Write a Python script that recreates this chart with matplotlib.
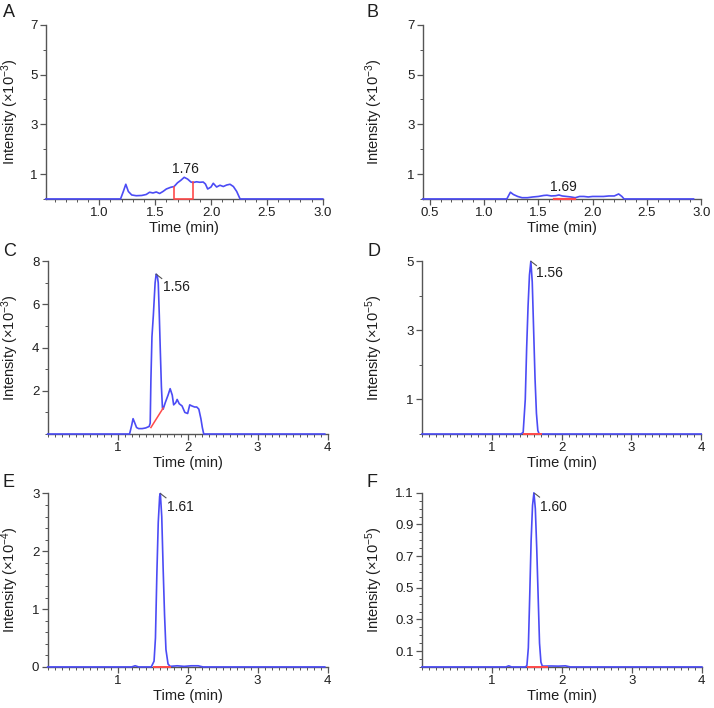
import numpy as np
import matplotlib.pyplot as plt
from matplotlib.ticker import MultipleLocator, FixedLocator

plt.rcParams['font.family'] = ['Liberation Sans', 'DejaVu Sans']
plt.rcParams['mathtext.fontset'] = 'custom'
plt.rcParams['mathtext.rm'] = 'Liberation Sans'
plt.rcParams['mathtext.default'] = 'regular'

# Cromatogramas (tiempo en min, intensidad en unidades del eje)
time_a = [0.52, 1.19, 1.215, 1.237, 1.26, 1.29, 1.33, 1.38, 1.42, 1.45, 1.48, 1.51, 1.54, 1.57,
          1.60, 1.64, 1.67, 1.70, 1.73, 1.76, 1.79, 1.82, 1.84, 1.87, 1.90, 1.93, 1.95, 1.97,
          2.00, 2.02, 2.05, 2.08, 2.11, 2.14, 2.17, 2.20, 2.23, 2.26, 3.0]
inten_a = [0, 0, 0.3, 0.59, 0.3, 0.16, 0.13, 0.14, 0.18, 0.27, 0.24, 0.28, 0.22, 0.3,
           0.4, 0.47, 0.5, 0.65, 0.75, 0.87, 0.8, 0.68, 0.66, 0.69, 0.67, 0.68, 0.6, 0.4,
           0.48, 0.63, 0.48, 0.55, 0.5, 0.56, 0.59, 0.5, 0.3, 0, 0]

time_b = [0.435, 1.21, 1.243, 1.27, 1.31, 1.35, 1.40, 1.45, 1.50, 1.55, 1.58, 1.62, 1.66, 1.69,
          1.72, 1.76, 1.80, 1.84, 1.88, 1.92, 1.96, 2.0, 2.05, 2.10, 2.15, 2.20, 2.24, 2.27,
          2.29, 2.93]
inten_b = [0, 0, 0.27, 0.18, 0.1, 0.05, 0.05, 0.08, 0.1, 0.14, 0.15, 0.12, 0.13, 0.16,
           0.12, 0.1, 0.08, 0.05, 0.1, 0.1, 0.08, 0.1, 0.1, 0.1, 0.12, 0.12, 0.2, 0.1,
           0, 0]

time_c = [0, 1.17, 1.20, 1.22, 1.24, 1.27, 1.30, 1.35, 1.40, 1.45, 1.465, 1.475, 1.49, 1.51,
          1.535, 1.55, 1.565, 1.58, 1.595, 1.61, 1.625, 1.64, 1.65, 1.68, 1.72, 1.75, 1.78, 1.80,
          1.83, 1.85, 1.88, 1.92, 1.96, 2.00, 2.03, 2.06, 2.10, 2.13, 2.16, 2.19, 2.21, 2.23, 3.96]
inten_c = [0, 0, 0.4, 0.71, 0.55, 0.3, 0.25, 0.25, 0.28, 0.35, 0.5, 2.5, 4.5, 5.5,
           7.0, 7.4, 7.35, 7.0, 5.5, 3.8, 2.2, 1.2, 1.15, 1.45, 1.8, 2.1, 1.8, 1.35,
           1.45, 1.6, 1.4, 1.3, 1.0, 0.95, 1.35, 1.3, 1.25, 1.25, 1.15, 0.7, 0.3, 0, 0]

time_d = [0, 1.42, 1.45, 1.48, 1.50, 1.52, 1.54, 1.56, 1.58, 1.60, 1.62, 1.64, 1.66, 1.68, 4.0]
inten_d = [0, 0, 0.05, 1.0, 2.5, 3.7, 4.6, 5.0, 4.4, 3.0, 1.6, 0.6, 0.1, 0, 0]

time_e = [0, 1.20, 1.25, 1.30, 1.48, 1.52, 1.54, 1.56, 1.58, 1.60, 1.61, 1.63, 1.65, 1.67,
          1.69, 1.72, 1.75, 1.85, 1.95, 2.05, 2.15, 2.22, 3.96]
inten_e = [0, 0, 0.02, 0, 0, 0.1, 0.5, 1.6, 2.5, 2.95, 3.0, 2.6, 1.7, 0.9,
           0.3, 0.05, 0.01, 0.02, 0.01, 0.02, 0.02, 0, 0]

time_f = [0, 1.20, 1.24, 1.28, 1.48, 1.50, 1.52, 1.54, 1.56, 1.58, 1.60, 1.62, 1.64, 1.66,
          1.68, 1.70, 1.72, 1.85, 1.95, 2.05, 2.12, 4.0]
inten_f = [0, 0, 0.007, 0, 0, 0.01, 0.12, 0.45, 0.8, 1.02, 1.1, 1.0, 0.75, 0.45,
           0.15, 0.03, 0.005, 0.006, 0.005, 0.007, 0, 0]

# Etiquetas de picos
peaks = ['1.76', '1.69', '1.56', '1.56', '1.61', '1.60']

blue = '#4b4bf5'
red = '#ff4a4a'
texto = '#1e1e1e'

fig = plt.figure(figsize=(7.14, 7.08), dpi=100)

posiciones = [
    [0.064, 0.719, 0.388, 0.246],
    [0.592, 0.719, 0.390, 0.246],
    [0.0668, 0.387, 0.392, 0.244],
    [0.591, 0.387, 0.391, 0.244],
    [0.0668, 0.058, 0.392, 0.245],
    [0.591, 0.058, 0.392, 0.246],
]
letras = ['A', 'B', 'C', 'D', 'E', 'F']
exps = ['-3', '-3', '-3', '-5', '-4', '-5']
xlims = [(0.52, 3.0), (0.435, 3.0), (0, 4), (0, 4), (0, 4), (0, 4)]
ylims = [(0, 7), (0, 7), (0, 8), (0, 5), (0, 3), (0, 1.1)]
xticks = [[1.0, 1.5, 2.0, 2.5, 3.0], [0.5, 1.0, 1.5, 2.0, 2.5, 3.0],
          [1, 2, 3, 4], [1, 2, 3, 4], [1, 2, 3, 4], [1, 2, 3, 4]]
xlabs = [['1.0', '1.5', '2.0', '2.5', '3.0'], ['0.5', '1.0', '1.5', '2.0', '2.5', '3.0'],
         ['1', '2', '3', '4']] + [['1', '2', '3', '4']] * 3
yticks = [[1, 3, 5, 7], [1, 3, 5, 7], [2, 4, 6, 8], [1, 3, 5], [0, 1, 2, 3],
          [0.1, 0.3, 0.5, 0.7, 0.9, 1.1]]
ylabs = [['1', '3', '5', '7'], ['1', '3', '5', '7'], ['2', '4', '6', '8'], ['1', '3', '5'],
         ['0', '1', '2', '3'], ['0.1', '0.3', '0.5', '0.7', '0.9', '1.1']]
yminor = [1, 1, 1, 1, 0.2, 0.05]
ylab_x = [10.5, 374.5, 10.5, 374.5, 10.5, 374.5]
letra_xy = [(3, 4), (367, 4), (3, 243), (368, 243), (3, 474), (367, 474)]

datos = [(time_a, inten_a), (time_b, inten_b), (time_c, inten_c),
         (time_d, inten_d), (time_e, inten_e), (time_f, inten_f)]

for i in range(6):
    ax = fig.add_axes(posiciones[i])
    t, y = datos[i]
    ax.plot(t, y, color=blue, lw=1.2, zorder=5, clip_on=False)
    ax.set_xlim(*xlims[i])
    ax.set_ylim(*ylims[i])
    ax.xaxis.set_major_locator(FixedLocator(xticks[i]))
    ax.set_xticklabels(xlabs[i])
    ax.xaxis.set_minor_locator(MultipleLocator(0.1))
    ax.yaxis.set_major_locator(FixedLocator(yticks[i]))
    ax.set_yticklabels(ylabs[i])
    ax.yaxis.set_minor_locator(MultipleLocator(yminor[i]))
    for s in ['top', 'right']:
        ax.spines[s].set_visible(False)
    for s in ['left', 'bottom']:
        ax.spines[s].set_color('#555555')
        ax.spines[s].set_linewidth(1.0)
    ax.tick_params(which='major', direction='out', length=4, width=0.9, color='#555555',
                   labelsize=9.5, labelcolor=texto, pad=2)
    ax.tick_params(which='minor', direction='out', length=2, width=0.7, color='#555555')
    ax.set_xlabel('Time (min)', fontsize=10.5, color=texto, labelpad=1)
    b = posiciones[i][1] + posiciones[i][3] / 2
    fig.text(ylab_x[i] / 714, b, 'Intensity (×10$^{' + exps[i] + '}$)', rotation=90,
             ha='center', va='center', fontsize=10.5, color=texto)
    lx, ly = letra_xy[i]
    fig.text(lx / 714, 1 - ly / 708, letras[i], ha='left', va='top', fontsize=13,
             color=texto)

    # integración y etiqueta del pico
    if i == 0:
        t1, t2 = 1.667, 1.838
        ax.plot([t1, t1, t2, t2], [np.interp(t1, t, y), 0, 0, np.interp(t2, t, y)],
                color=red, lw=1.2, zorder=6, clip_on=False)
        ax.text(1.77, 1.2, peaks[i], ha='center', va='center', fontsize=10, color=texto)
    elif i == 1:
        ax.plot([1.64, 1.84], [0, 0], color=red, lw=1.6, zorder=6, clip_on=False)
        ax.text(1.731, 0.47, peaks[i], ha='center', va='center', fontsize=10, color=texto)
    else:
        if i == 2:
            ax.plot([1.475, 1.65], [0.3, 1.2], color=red, lw=1.1, zorder=6)
        else:
            t1 = {3: 1.46, 4: 1.52, 5: 1.52}[i]
            t2 = {3: 1.70, 4: 1.75, 5: 1.78}[i]
            ax.plot([t1, t2], [0, 0], color=red, lw=1.4, zorder=6, clip_on=False)
        k = int(np.argmax(y))
        tp, yp = t[k], y[k]
        ym = ylims[i][1]
        ax.plot([tp, tp + 0.08], [yp, yp - 0.025 * ym], color='#555555', lw=0.8, zorder=7)
        lab_x = {2: 1.65, 3: 1.63, 4: 1.70, 5: 1.69}[i]
        lab_y = {2: 6.83, 3: 4.65, 4: 2.77, 5: 1.01}[i]
        ax.text(lab_x, lab_y, peaks[i], ha='left', va='center', fontsize=10, color=texto)

plt.savefig('out.png', dpi=100)
